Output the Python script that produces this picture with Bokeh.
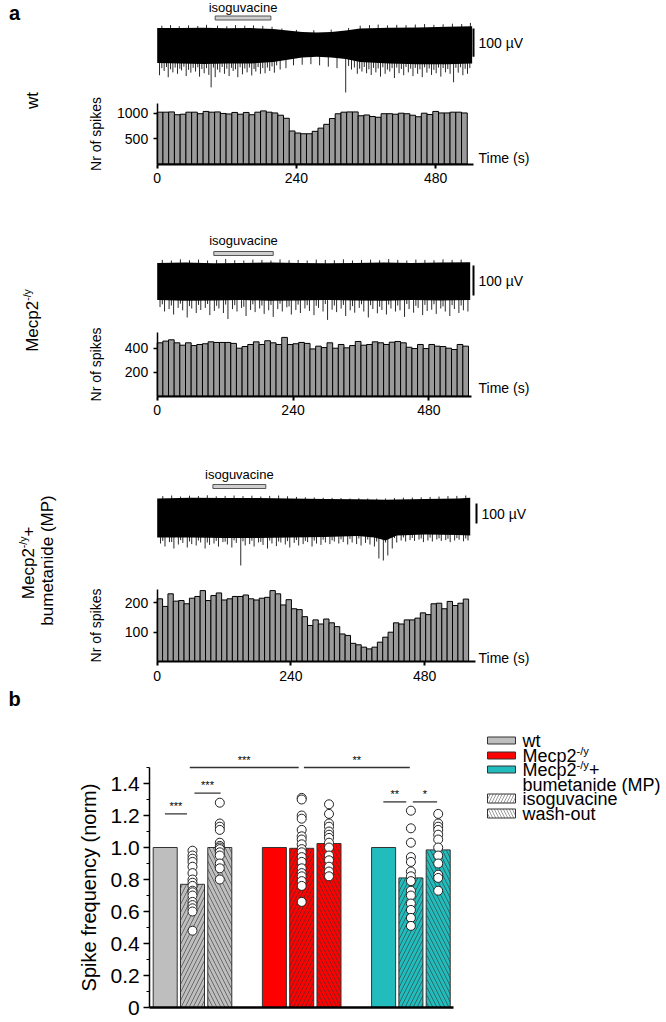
import numpy as np
from bokeh.plotting import figure
from bokeh.models import Range1d, LinearAxis, FixedTicker, ColumnDataSource, PrintfTickFormatter
from bokeh.layouts import column
from bokeh.embed import file_html
from bokeh.resources import INLINE
from bokeh.core.properties import value

FONT = "Liberation Sans"
PAGE_L = 0
W = 666

# ---------------- data: panel a (spike-count histograms, ~10 s bins) ----------------
hist_wt = [1020, 1020, 1025, 970, 980, 1020, 1020, 990, 1035, 1020,
           1025, 995, 985, 1015, 980, 1015, 970, 1020, 1045, 1020,
           1005, 960, 900, 650, 610, 595, 595, 643, 706, 781,
           895, 989, 1020, 1025, 1025, 950, 965, 935, 920, 990,
           990, 980, 1000, 990, 960, 930, 1000, 975, 1035, 1005,
           1005, 1020, 1020, 1005]
hist_mecp2 = [445, 459, 470, 445, 425, 445, 422, 431, 437, 453,
              448, 448, 448, 440, 400, 414, 431, 453, 431, 462,
              445, 431, 490, 431, 437, 448, 440, 394, 417, 405,
              445, 400, 431, 403, 422, 456, 425, 431, 453, 445,
              431, 450, 456, 445, 408, 397, 431, 397, 431, 417,
              414, 400, 389, 431, 417]
hist_mp = [214, 188, 231, 206, 208, 197, 216, 222, 242, 208,
           225, 234, 210, 214, 222, 222, 227, 214, 210, 216,
           219, 242, 231, 193, 211, 180, 177, 153, 123, 142,
           128, 145, 132, 119, 94, 89, 62, 57, 49, 43,
           49, 66, 83, 100, 132, 128, 142, 142, 148, 166,
           160, 197, 199, 180, 205, 191, 199, 213]
hist_yticks = [[500, 1000], [200, 400], [100, 200]]
time_ticks = [0, 240, 480]

# ---------------- raw traces (uV): dense band envelope + hairs ----------------
tr1_t = [0, 40, 80, 120, 160, 200, 225, 250, 275, 300, 325, 350, 400, 450, 500, 543]
tr1_top = [62, 62, 63, 61, 62, 58, 53, 48, 46, 48, 53, 60, 63, 64, 66, 68]
tr1_bot = [-62, -64, -65, -64, -64, -58, -50, -42, -40, -42, -48, -58, -64, -66, -66, -64]
tr1_dn_t = [4, 12, 19, 27, 35, 42, 50, 58, 66, 73, 81, 89, 93, 100, 108, 116, 124, 131, 139, 147,
            155, 163, 170, 178, 186, 194, 202, 212, 222, 235, 250, 265, 280, 295, 310, 325, 335, 345,
            353, 361, 369, 377, 385, 393, 401, 409, 417, 425, 433, 441, 449, 457, 465, 473, 481, 489,
            497, 505, 511, 519, 527, 535]
tr1_dn_v = [-105, -90, -112, -95, -100, -88, -108, -96, -92, -110,
            -98, -104, -148, -112, -95, -100, -108, -90, -112, -102,
            -95, -106, -92, -100, -98, -90, -96, -85, -80, -70,
            -68, -66, -70, -75, -80, -166, -85, -100, -92, -98,
            -104, -95, -110, -100, -92, -115, -98, -105, -95, -108,
            -100, -112, -96, -104, -98, -110, -95, -100, -130, -96,
            -105, -100]
tr1_dn2_t = [8, 16, 23, 31, 39, 46, 54, 62, 70, 77, 85, 97, 104, 112, 120, 128, 135, 143, 151, 159,
             167, 174, 182, 190, 198, 206, 330, 340, 349, 357, 365, 373, 381, 389, 397, 405, 413, 421,
             429, 437, 445, 453, 461, 469, 477, 485, 493, 501, 515, 523, 531, 539]
tr1_dn2_v = [-80, -76, -84, -78, -82, -75, -86, -79, -77, -83,
             -80, -78, -85, -76, -82, -79, -84, -77, -81, -78,
             -83, -76, -80, -78, -74, -70, -72, -78, -82, -76,
             -84, -79, -81, -77, -85, -80, -78, -83, -76, -82,
             -79, -84, -77, -81, -86, -78, -80, -83, -79, -77,
             -82, -80]
tr1_up_t = [8, 23, 38, 54, 70, 85, 104, 120, 135, 151, 166, 182, 198, 215, 240, 270, 300, 330, 350,
            366, 381, 397, 413, 429, 445, 461, 477, 493, 509, 525, 540]
tr1_up_v = [70, 72, 68, 71, 69, 73, 70, 68, 72, 70, 71, 69, 66, 60, 55, 54, 56, 62, 70, 72, 74, 71,
            73, 72, 74, 76, 73, 75, 77, 76, 80]

tr2_t = [0, 50, 100, 150, 200, 250, 300, 350, 400, 450, 500, 553]
tr2_top = [62, 63, 61, 62, 63, 62, 61, 62, 63, 62, 63, 64]
tr2_bot = [-62, -64, -63, -62, -64, -63, -62, -63, -64, -62, -63, -62]
tr2_dn_t = [5, 13, 21, 29, 37, 45, 53, 61, 69, 77, 85, 93, 101, 109, 117, 125, 133, 141, 149, 157,
            165, 173, 181, 189, 197, 205, 213, 221, 229, 237, 245, 253, 261, 269, 277, 285, 293, 301,
            309, 317, 325, 333, 341, 349, 357, 365, 373, 381, 389, 397, 405, 413, 421, 429, 437, 445,
            453, 461, 469, 477, 485, 493, 501, 509, 517, 525, 533, 541, 549]
tr2_dn_v = [-85, -100, -92, -110, -88, -96, -120, -90, -105, -95,
            -88, -112, -98, -90, -105, -125, -92, -100, -88, -115,
            -95, -102, -90, -108, -96, -118, -92, -100, -86, -110,
            -95, -105, -90, -98, -112, -88, -100, -128, -94, -102,
            -90, -115, -96, -104, -88, -100, -120, -92, -106, -95,
            -110, -90, -100, -96, -118, -92, -104, -88, -112, -98,
            -94, -108, -90, -100, -115, -92, -105, -96, -100]
tr2_up_t = [9, 25, 41, 57, 73, 89, 105, 121, 137, 153, 169, 185, 201, 217, 233, 249, 265, 281, 297,
            313, 329, 345, 361, 377, 393, 409, 425, 441, 457, 473, 489, 505, 521, 537]
tr2_up_v = [72, 70, 74, 71, 73, 70, 72, 75, 71, 70, 73, 72, 70, 74, 71, 72, 70, 73, 72, 71,
            74, 70, 72, 73, 71, 75, 72, 70, 73, 72, 71, 74, 72, 73]
tr2_dn2_v = [-76, -80, -74, -82, -78, -75, -81, -77, -79, -84,
             -76, -80, -78, -74, -83, -77, -79, -81, -75, -80,
             -78, -82, -76, -79, -84, -77, -80, -75, -81, -78,
             -76, -83, -79, -80]

tr3_t = [0, 60, 120, 180, 240, 300, 360, 390, 410, 430, 480, 540, 562]
tr3_top = [100, 104, 102, 103, 100, 98, 96, 95, 94, 95, 98, 100, 104]
tr3_bot = [-95, -95, -98, -98, -95, -92, -88, -95, -110, -85, -80, -82, -85]
tr3_dn_t = [6, 14, 22, 30, 38, 46, 54, 62, 70, 78, 86, 94, 102, 110, 118, 126, 134, 142, 150, 158,
            166, 174, 182, 190, 198, 206, 214, 222, 230, 238, 246, 254, 262, 270, 278, 286, 294, 302,
            310, 318, 326, 334, 342, 350, 358, 366, 374, 382, 390, 398, 406, 414, 422, 430, 438, 446,
            454, 462, 470, 478, 486, 494, 502, 510, 518, 526, 534, 542, 550, 558]
tr3_dn_v = [-125, -140, -118, -150, -130, -122, -145, -128, -135, -120,
            -150, -132, -125, -140, -118, -130, -145, -122, -235, -135,
            -128, -140, -120, -132, -150, -125, -138, -120, -130, -145,
            -122, -135, -128, -118, -140, -125, -132, -120, -128, -115,
            -125, -118, -130, -120, -128, -135, -122, -130, -140, -200,
            -210, -185, -150, -120, -110, -115, -108, -112, -105, -118,
            -110, -115, -105, -112, -108, -118, -110, -106, -114, -110]
tr3_up_t = [10, 26, 42, 58, 74, 90, 106, 122, 138, 154, 170, 186, 202, 218, 234, 250, 266, 282,
            298, 314, 330, 346, 362, 378, 394, 410, 426, 442, 458, 474, 490, 506, 522, 538, 554]
tr3_up_v = [112, 115, 110, 114, 112, 116, 111, 113, 115, 112, 114, 110, 113, 115, 111, 108, 106,
            105, 104, 103, 102, 100, 101, 100, 99, 100, 102, 104, 105, 106, 108, 110, 112, 113, 115]
tr3_dn2_v = [-112, -118, -108, -115, -110, -120, -112, -116, -109, -114,
             -111, -117, -110, -115, -113, -108, -112, -110, -106, -109,
             -104, -102, -100, -105, -115, -120, -98, -95, -97, -100,
             -96, -99, -101, -98, -100]

iso_on = [100, 100, 100]
iso_off = [196, 205, 195]
scale_uv = 100

# ---------------- data: panel b ----------------
groups = ["wt", "Mecp2", "MP"]
conditions = ["control", "isoguvacine", "wash-out"]
bar_wt = [1.0, 0.77, 1.0]
bar_mecp2 = [1.0, 0.995, 1.025]
bar_mp = [1.0, 0.81, 0.985]
wt_iso = [0.98, 0.95, 0.93, 0.91, 0.88, 0.84, 0.80, 0.78, 0.76, 0.73, 0.72, 0.70, 0.66, 0.64, 0.62, 0.60, 0.48]
wt_wash = [1.28, 1.15, 1.13, 1.11, 1.03, 1.01, 1.00, 0.99, 0.97, 0.95, 0.90, 0.87, 0.80]
mecp2_iso = [1.31, 1.30, 1.20, 1.18, 1.11, 1.07, 1.05, 1.02, 0.99, 0.97, 0.94, 0.91, 0.87, 0.84, 0.82, 0.79, 0.76, 0.66]
mecp2_wash = [1.27, 1.21, 1.15, 1.13, 1.10, 1.08, 1.06, 1.03, 1.00, 0.95, 0.92, 0.88, 0.85, 0.82]
mp_iso = [1.23, 1.12, 1.03, 0.94, 0.91, 0.85, 0.82, 0.79, 0.73, 0.70, 0.65, 0.61, 0.56, 0.51]
mp_wash = [1.21, 1.15, 1.13, 1.11, 1.08, 1.05, 1.00, 0.95, 0.90, 0.83, 0.81, 0.73]
b_yticks = [0, 0.2, 0.4, 0.6, 0.8, 1.0, 1.2, 1.4]
b_yminor = [0.1, 0.3, 0.5, 0.7, 0.9, 1.1, 1.3, 1.5]
sig_x0 = [-0.01, 1.07, 0.90, 5.08, 7.99, 9.07]
sig_x1 = [0.80, 2.03, 4.89, 8.96, 8.83, 9.96]
sig_y = [1.21, 1.34, 1.50, 1.50, 1.285, 1.285]
sig_txt = ["***", "***", "***", "**", "**", "*"]

# ---------------- helpers ----------------
EM = {'M': .833, 'e': .556, 'c': .5, 'p': .556, '2': .556, '-': .333, '/': .278, 'y': .5,
      ' ': .278, '+': .584, 'w': .722, 't': .278, 'b': .556, 'u': .556, 'm': .833, 'a': .556,
      'n': .556, 'i': .222, 'd': .556, '(': .333, ')': .333, 'P': .667}


def tw(s, size):
    return sum(EM.get(ch, 0.556) for ch in s) * size


def make_fig(top, height, x0_px, kx, y0_px, ky):
    xr = Range1d((PAGE_L - x0_px) / kx, (PAGE_L + W - x0_px) / kx)
    yr = Range1d((y0_px - top - height) / ky, (y0_px - top) / ky)
    p = figure(width=W, height=height, x_range=xr, y_range=yr,
               output_backend="svg", toolbar_location=None,
               x_axis_location=None, y_axis_location=None,
               min_border=0, outline_line_color=None,
               background_fill_color="white", border_fill_color="white")
    p.grid.visible = False
    X = lambda px: (px - x0_px) / kx
    Y = lambda py: (y0_px - py) / ky
    return p, X, Y


def txt(p, x, y, s, size, align="left", baseline="middle", angle=0.0, style="normal",
        color="black", rng="default"):
    p.text(x=[x], y=[y], text=[s], text_font=value(FONT), text_font_size=f"{size}px",
           text_align=align, text_baseline=baseline, angle=angle,
           text_font_style=style, text_color=color, y_range_name=rng)


def rot_parts(p, X, Y, cx, cy, parts, size):
    """vertical (bottom-to-top) text assembled from parts (text, scale, raise_px)."""
    total = sum(tw(s, size * sc) for s, sc, _ in parts)
    py = cy + total / 2
    for s, sc, rz in parts:
        txt(p, X(cx - rz), Y(py), s, size * sc, align="left", angle=np.pi / 2)
        py -= tw(s, size * sc)


def hor_parts(p, X, Y, x0, cy, parts, size):
    px = x0
    for s, sc, rz in parts:
        txt(p, X(px), Y(cy - rz), s, size * sc, align="left")
        px += tw(s, size * sc)


def style_axis(ax, size=14, lw=1.5):
    ax.axis_line_width = lw
    ax.axis_line_color = "black"
    ax.major_tick_line_width = lw
    ax.major_tick_in = 0
    ax.major_tick_out = 4
    ax.minor_tick_line_color = None
    ax.major_label_text_font = FONT
    ax.major_label_text_font_size = f"{size}px"
    ax.major_label_text_color = "black"
    ax.axis_label_text_font = FONT
    ax.axis_label_text_font_style = "normal"
    ax.axis_label_text_font_size = f"{size}px"
    ax.axis_label_text_color = "black"


SUP = [("Mecp2", 1.0, 0), ("-/y", 0.62, 6)]

rows = [
    dict(top=0, h=198, kx=0.58, base=163.5, ky=0.0508, hist=hist_wt, bw=9.9, ymax=1200, xmax=545,
         trc=45, ktr=0.283, tt=tr1_t, ttop=tr1_top, tbot=tr1_bot,
         dt=tr1_dn_t + tr1_dn2_t, dv=tr1_dn_v + tr1_dn2_v, ut=tr1_up_t, uv=tr1_up_v,
         iso_y=7, iso_bar=(15.5, 19.5), sb_top=28, sb_x=473, time_y=157, standoff=10),
    dict(top=198, h=237, kx=0.566, base=395.7, ky=0.12, hist=hist_mecp2, bw=10.0, ymax=530, xmax=556,
         trc=281, ktr=0.30, tt=tr2_t, ttop=tr2_top, tbot=tr2_bot,
         dt=tr2_dn_t + tr2_up_t, dv=tr2_dn_v + tr2_dn2_v, ut=tr2_up_t, uv=tr2_up_v,
         iso_y=240, iso_bar=(251, 255), sb_top=265, sb_x=473, time_y=387, standoff=18),
    dict(top=435, h=248, kx=0.557, base=661, ky=0.293, hist=hist_mp, bw=9.64, ymax=245, xmax=571,
         trc=518, ktr=0.20, tt=tr3_t, ttop=tr3_top, tbot=tr3_bot,
         dt=tr3_dn_t + tr3_up_t, dv=tr3_dn_v + tr3_dn2_v, ut=tr3_up_t, uv=tr3_up_v,
         iso_y=474, iso_bar=(484, 488), sb_top=503, sb_x=476, time_y=657, standoff=18),
]

figs = []
for i, r in enumerate(rows):
    p, X, Y = make_fig(r["top"], r["h"], 156.7, r["kx"], r["base"], r["ky"])
    top, h = r["top"], r["h"]
    trc, ktr = r["trc"], r["ktr"]
    p.extra_y_ranges = {"tr": Range1d((trc - top - h) / ktr, (trc - top) / ktr)}
    T = lambda py, trc=trc, ktr=ktr: (trc - py) / ktr

    # raw trace: hairs then dense band
    p.segment(x0=r["dt"], y0=[0] * len(r["dt"]), x1=r["dt"], y1=r["dv"], y_range_name="tr",
              line_color="#2a2a2a", line_width=1)
    p.segment(x0=r["ut"], y0=[0] * len(r["ut"]), x1=r["ut"], y1=r["uv"], y_range_name="tr",
              line_color="#2a2a2a", line_width=1)
    p.varea(x=r["tt"], y1=r["tbot"], y2=r["ttop"], y_range_name="tr", fill_color="black")
    # isoguvacine application bar
    b0, b1 = r["iso_bar"]
    p.quad(left=[iso_on[i]], right=[iso_off[i]], bottom=[T(b1)], top=[T(b0)], y_range_name="tr",
           fill_color="#cfcfcf", line_color="#555555", line_width=1)
    txt(p, (iso_on[i] + iso_off[i]) / 2, T(r["iso_y"]), "isoguvacine", 13, align="center", rng="tr")
    # scale bar
    sx = X(r["sb_x"])
    s_top = T(r["sb_top"])
    p.segment(x0=[sx], y0=[s_top], x1=[sx], y1=[s_top - scale_uv], y_range_name="tr",
              line_color="black", line_width=2)
    txt(p, X(r["sb_x"] + 5), s_top - scale_uv / 2, "100 \u00b5V", 14, rng="tr")

    # histogram
    hv = r["hist"]
    centers = (np.arange(len(hv)) + 0.5) * r["bw"]
    p.vbar(x=centers, top=hv, bottom=0, width=r["bw"], fill_color="#9a9a9a",
           line_color="black", line_width=1)

    ya = LinearAxis(fixed_location=0, bounds=(0, r["ymax"]),
                    ticker=FixedTicker(ticks=hist_yticks[i]), axis_label="Nr of spikes")
    style_axis(ya)
    ya.axis_label_standoff = r["standoff"]
    p.add_layout(ya, "left")
    xa = LinearAxis(fixed_location=0, bounds=(0, r["xmax"]), ticker=FixedTicker(ticks=time_ticks))
    style_axis(xa, lw=2)
    p.add_layout(xa, "below")
    txt(p, X(478), Y(r["time_y"]), "Time (s)", 14)

    # row labels
    if i == 0:
        txt(p, X(14), Y(12), "a", 20, align="center", style="bold")
        rot_parts(p, X, Y, 32, 100, [("wt", 1.0, 0)], 17)
    elif i == 1:
        rot_parts(p, X, Y, 32, 320, SUP, 17)
    else:
        rot_parts(p, X, Y, 28, 560, SUP + [(" +", 1.0, 0)], 17)
        rot_parts(p, X, Y, 47, 560, [("bumetanide (MP)", 1.0, 0)], 17)
    figs.append(p)

# ---------------- panel b ----------------
B_AX = 1007
B_K = 160
pb, BX, BY = make_fig(683, 337, 164.7, 27.3, B_AX, B_K)
group_colors = ["#bebebe", "#ff0000", "#22bcbc"]
cond_hatch = [" ", "/", "\\"]
means = [bar_wt, bar_mecp2, bar_mp]
pts = [[None, wt_iso, wt_wash], [None, mecp2_iso, mecp2_wash], [None, mp_iso, mp_wash]]

bx, btop, bcol, bhatch = [], [], [], []
for g in range(len(groups)):
    for k in range(len(conditions)):
        bx.append(4 * g + k)
        btop.append(means[g][k])
        bcol.append(group_colors[g])
        bhatch.append(cond_hatch[k])
src = ColumnDataSource(dict(x=bx, top=btop, color=bcol, hatch=bhatch))
pb.vbar(x="x", top="top", bottom=0, width=0.88, source=src, fill_color="color",
        line_color="#333333", line_width=1, hatch_pattern="hatch", hatch_color="#333333",
        hatch_scale=8, hatch_weight=0.6)

px_, py_ = [], []
for g in range(len(groups)):
    for k in range(1, len(conditions)):
        px_ += [4 * g + k] * len(pts[g][k])
        py_ += pts[g][k]
pb.scatter(x=px_, y=py_, size=9, marker="circle", fill_color="white", line_color="#222222",
           line_width=1)

pb.segment(x0=sig_x0, y0=sig_y, x1=sig_x1, y1=sig_y, line_color="#333333", line_width=1.3)
pb.text(x=[(a + b) / 2 for a, b in zip(sig_x0, sig_x1)], y=[v + 2 / B_K for v in sig_y], text=sig_txt,
        text_font=value(FONT), text_font_size="11px", text_align="center", text_baseline="bottom",
        text_color="black")

ax_x = BX(149.3)
yb = LinearAxis(fixed_location=ax_x, bounds=(0, 1.5),
                ticker=FixedTicker(ticks=b_yticks, minor_ticks=b_yminor),
                formatter=PrintfTickFormatter(format="%.1f"),
                axis_label="Spike frequency (norm)")
style_axis(yb, size=21, lw=1.5)
yb.major_tick_out = 6
yb.minor_tick_line_color = "black"
yb.minor_tick_out = 3
yb.minor_tick_in = 0
yb.major_label_standoff = 4
yb.axis_label_text_font_size = "20px"
yb.axis_label_standoff = 7
yb.major_label_overrides = {0: "0"}
pb.add_layout(yb, "left")
xb = LinearAxis(fixed_location=0, bounds=(ax_x, BX(453)), ticker=FixedTicker(ticks=[]))
style_axis(xb, lw=2.5)
pb.add_layout(xb, "below")

txt(pb, BX(14), BY(698), "b", 20, align="center", style="bold")

# legend
leg_fill = group_colors + ["white", "white"]
leg_hatch = [" ", " ", " "] + ["/", "\\"]
leg_y = [740, 755, 769, 798, 813]
leg_h = [7, 7, 7, 9, 9]
pb.rect(x=[BX(501)] * 5, y=[BY(v) for v in leg_y], width=28 / 27.3, height=[v / B_K for v in leg_h],
        fill_color=leg_fill, line_color="#333333", line_width=1, hatch_pattern=leg_hatch,
        hatch_color="#555555", hatch_scale=6, hatch_weight=0.6)
LX = 522
LS = 18
hor_parts(pb, BX, BY, LX, 740, [("wt", 1.0, 0)], LS)
hor_parts(pb, BX, BY, LX, 755, [("Mecp2", 1.0, 0), ("-/y", 0.62, 5)], LS)
hor_parts(pb, BX, BY, LX, 769, [("Mecp2", 1.0, 0), ("-/y", 0.62, 5), (" +", 1.0, 0)], LS)
hor_parts(pb, BX, BY, LX, 784, [("bumetanide (MP)", 1.0, 0)], LS)
hor_parts(pb, BX, BY, LX, 798, [("isoguvacine", 1.0, 0)], LS)
hor_parts(pb, BX, BY, LX, 813, [("wash-out", 1.0, 0)], LS)

layout = column(*figs, pb, spacing=0)
open("out.html", "w").write(file_html(layout, INLINE))
